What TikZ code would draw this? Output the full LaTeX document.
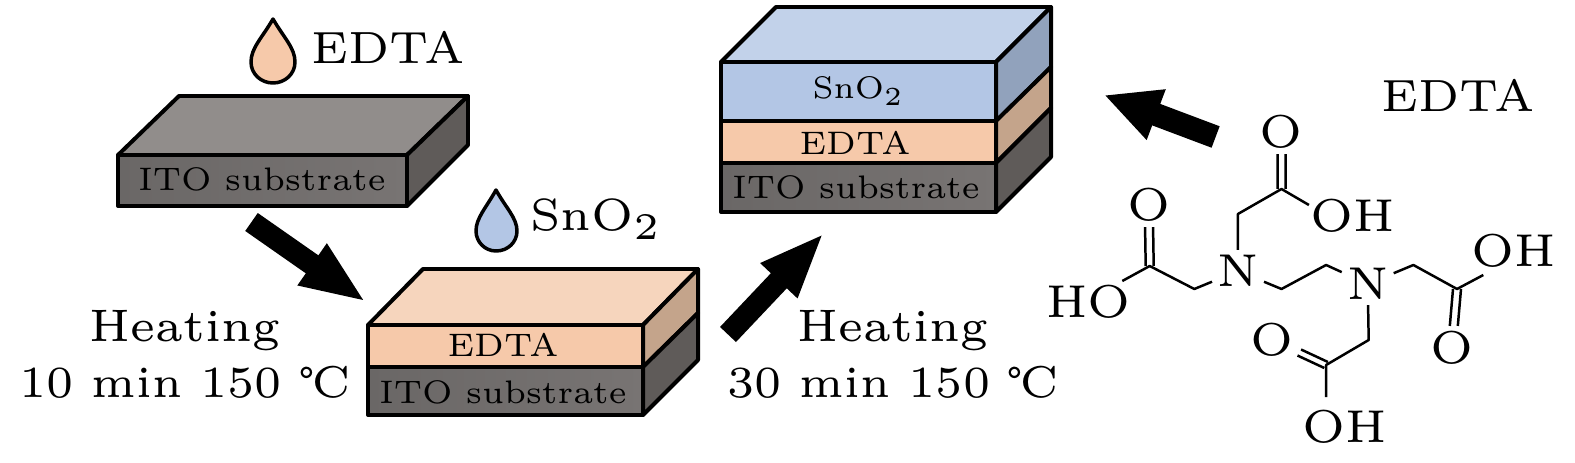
\documentclass[tikz,border=0pt]{standalone}
\usepackage{amsmath}
\usepackage{tikz}
\usetikzlibrary{arrows.meta}

\definecolor{itoTop}{HTML}{918D8B}
\definecolor{itoFrontA}{HTML}{6A6766}
\definecolor{itoFrontB}{HTML}{787473}
\definecolor{itoSide}{HTML}{5F5B59}
\definecolor{edtaTop}{HTML}{F6D5BD}
\definecolor{edtaFront}{HTML}{F6C9AA}
\definecolor{edtaSide}{HTML}{C4A48B}
\definecolor{snoTop}{HTML}{C2D2EA}
\definecolor{snoFront}{HTML}{B3C6E5}
\definecolor{snoSide}{HTML}{91A2BC}

\tikzset{
  face/.style={draw=black,line width=4,line join=round},
  itoface/.style={face,left color=itoFrontA,right color=itoFrontB},
  drop/.style={draw=black,line width=3.5,line join=round},
  bigtext/.style={font=\fontsize{6}{8}\selectfont,scale=7.55,transform shape,inner sep=0.5pt},
  smalltext/.style={font=\fontsize{6}{8}\selectfont,scale=5.45,transform shape,inner sep=0pt},
  atom/.style={font=\fontsize{6}{8}\selectfont,scale=7.7,transform shape,inner sep=0.5pt},
  bond/.style={draw=black,line width=2.5},
  bigarrow/.style={draw=black,line width=22,-{Triangle[length=66,width=46]}},
  backarrow/.style={draw=black,line width=23,-{Triangle[length=56,width=50]}},
}

\begin{document}
\begin{tikzpicture}[x=1bp,y=-1bp]
  \useasboundingbox (0,0) rectangle (1575,463);

  % first slab
  \path[face,fill=itoTop] (118,155) -- (179,96) -- (468,96) -- (407,155) -- cycle;
  \path[face,fill=itoSide] (407,155) -- (468,96) -- (468,145) -- (407,206) -- cycle;
  \path[itoface] (118,155) rectangle (407,206);
  \node[smalltext] (ito1) at (262,179) {ITO substrate};

  % second slab
  \path[face,fill=edtaTop] (368,325) -- (423,269) -- (698,269) -- (643,325) -- cycle;
  \path[face,fill=edtaSide] (643,325) -- (698,269) -- (698,313) -- (643,367) -- cycle;
  \path[face,fill=itoSide] (643,367) -- (698,313) -- (698,360) -- (643,415) -- cycle;
  \path[face,fill=edtaFront] (368,325) rectangle (643,367);
  \path[itoface] (368,367) rectangle (643,415);
  \node[smalltext] (edta2) at (503,345) {EDTA};
  \node[smalltext] (ito2) at (503,392) {ITO substrate};

  % third slab
  \path[face,fill=snoTop] (721,62) -- (776,7) -- (1051,7) -- (996,62) -- cycle;
  \path[face,fill=snoSide] (996,62) -- (1051,7) -- (1051,67) -- (996,121) -- cycle;
  \path[face,fill=edtaSide] (996,121) -- (1051,67) -- (1051,108) -- (996,163) -- cycle;
  \path[face,fill=itoSide] (996,163) -- (1051,108) -- (1051,157) -- (996,212) -- cycle;
  \path[face,fill=snoFront] (721,62) rectangle (996,121);
  \path[face,fill=edtaFront] (721,121) rectangle (996,163);
  \path[itoface] (721,163) rectangle (996,212);
  \node[smalltext,scale=0.96] (sno3) at (858.5,91) {SnO$_2$};
  \node[smalltext] (edta3) at (855,143) {EDTA};
  \node[smalltext] (ito3) at (856,187) {ITO substrate};

  % droplets
  \path[drop,fill=edtaFront] (273,19) .. controls (262,38) and (251,48) .. (251,62) .. controls (251,74) and (261,83) .. (273,83) .. controls (285,83) and (295,74) .. (295,62) .. controls (295,48) and (284,38) .. (273,19) -- cycle;
  \path[drop,fill=snoFront] (496,190) .. controls (486,208) and (476,218) .. (476,231) .. controls (476,242) and (485,251) .. (496,251) .. controls (508,251) and (517,242) .. (517,231) .. controls (517,218) and (506,208) .. (496,190) -- cycle;

  % texts
  \node[bigtext] (dropA) at (388,47) {EDTA};
  \node[bigtext] (dropB) at (596.5,219) {SnO$_2$};
  \node[bigtext] (edtaName) at (1458,95) {EDTA};
  \node[bigtext,scale=1.01] (heatA) at (185,331) {Heating};
  \node[bigtext,scale=0.985] (timeA) at (185,382) {10 min 150 \textcelsius};
  \node[bigtext,scale=1.01] (heatB) at (893,331) {Heating};
  \node[bigtext,scale=0.985] (timeB) at (893,382) {30 min 150 \textcelsius};

  % process arrows
  \coordinate (a1s) at (251.5,222);
  \coordinate (a1e) at (366,302);
  \coordinate (a2s) at (728,334.5);
  \coordinate (a2e) at (824,233);
  \coordinate (a3s) at (1215.6,137);
  \coordinate (a3e) at (1104,95);
  \draw[bigarrow] (a1s) -- (a1e);
  \draw[bigarrow] (a2s) -- (a2e);
  \draw[backarrow] (a3s) -- (a3e);

  % molecule
  \node[atom] (n1) at (1238,271) {N};
  \node[atom] (n2) at (1367.7,284) {N};
  \node[atom] (o1) at (1281.5,132) {O};
  \node[atom] (oh1) at (1352.5,216) {OH};
  \node[atom] (o2) at (1148.7,205) {O};
  \node[atom] (ho2) at (1088.8,302) {HO};
  \node[atom] (oh3) at (1513.8,251) {OH};
  \node[atom] (o3) at (1451.9,348) {O};
  \node[atom] (o4) at (1272.4,340) {O};
  \node[atom] (oh4) at (1344.4,427) {OH};

  \coordinate (c1) at (1281.5,189);
  \coordinate (m1) at (1237.9,214);
  \coordinate (c2) at (1149.7,266);
  \coordinate (m2) at (1194.3,289);
  \coordinate (e1) at (1281.5,289);
  \coordinate (e2) at (1326.1,265);
  \coordinate (m3) at (1413.4,265);
  \coordinate (c3) at (1457,289);
  \coordinate (m4) at (1368.7,340);
  \coordinate (c4) at (1326.1,365);
  \coordinate (oh1end) at (1308.9,205);
  \coordinate (ho2end) at (1122.3,281);
  \coordinate (oh3end) at (1483.3,275);
  \coordinate (oh4end) at (1326.1,397);

  \draw[bond,line join=round] (n1) -- (m1) -- (c1) -- (oh1end);
  \draw[bond,line join=round] (n1) -- (m2) -- (c2) -- (ho2end);
  \draw[bond,line join=round] (n1) -- (e1) -- (e2) -- (n2);
  \draw[bond,line join=round] (n2) -- (m3) -- (c3) -- (oh3end);
  \draw[bond,line join=round] (n2) -- (m4) -- (c4) -- (oh4end);
  \draw[bond,transform canvas={xshift=-4bp}] (c1) -- (o1);
  \draw[bond,transform canvas={xshift=4bp}] (c1) -- (o1);
  \draw[bond,transform canvas={xshift=-4bp}] (c2) -- (o2);
  \draw[bond,transform canvas={xshift=4bp}] (c2) -- (o2);
  \draw[bond,transform canvas={xshift=-4bp}] (c3) -- (o3);
  \draw[bond,transform canvas={xshift=4bp}] (c3) -- (o3);
  \draw[bond,transform canvas={xshift=-1.8bp,yshift=-3bp}] (c4) -- (o4);
  \draw[bond,transform canvas={xshift=1.8bp,yshift=3bp}] (c4) -- (o4);
\end{tikzpicture}
\end{document}
